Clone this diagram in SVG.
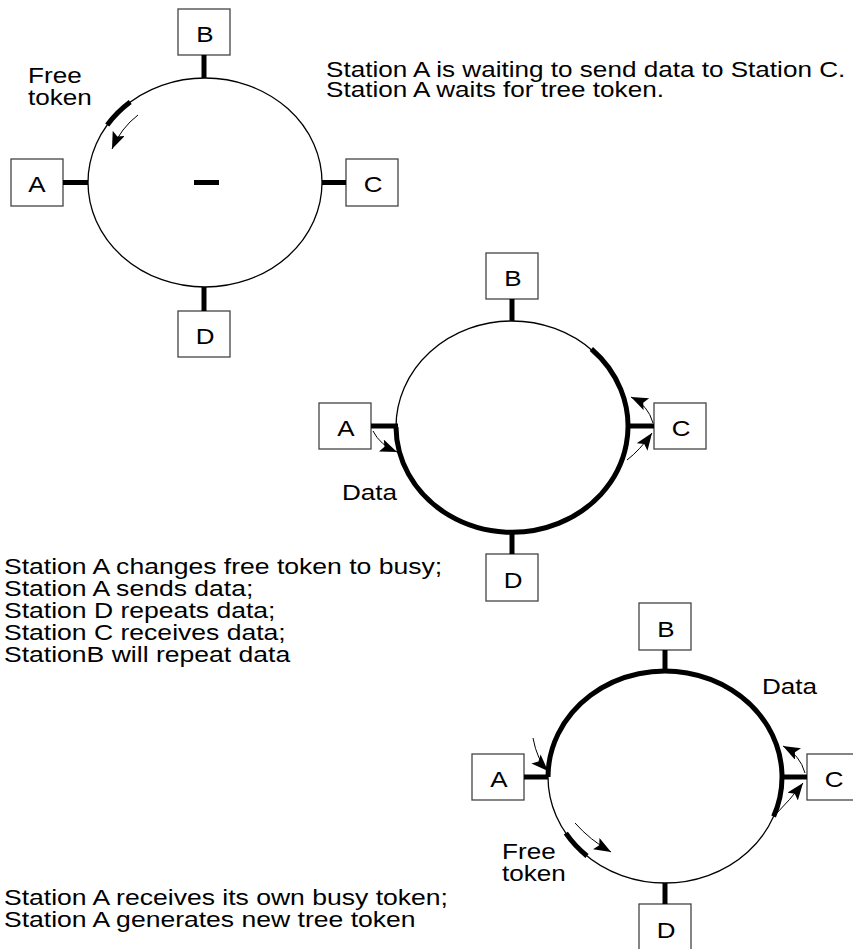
<svg xmlns="http://www.w3.org/2000/svg" width="853" height="949" viewBox="0 0 853 949">
<style>
.t{font-family:"Liberation Sans",Arial,Helvetica,sans-serif;font-size:22.5px;fill:#000}
.lbl{font-family:"Liberation Sans",Arial,Helvetica,sans-serif;font-size:22px;fill:#000;text-anchor:middle}
.box{fill:#fff;stroke:#444;stroke-width:1.3}
.ring{fill:none;stroke:#000;stroke-width:1.3}
.stem{stroke:#000;stroke-width:5;fill:none}
.thick{fill:none;stroke:#000;stroke-width:5}
.arr{fill:none;stroke:#000;stroke-width:1}
</style>
<defs>
<marker id="ah" markerUnits="userSpaceOnUse" markerWidth="20" markerHeight="14" refX="17" refY="6.5" orient="auto">
<path d="M0,0 L17,6.5 L0,13 L3.5,6.5 z" fill="#000"/>
</marker>
</defs>

<!-- Ring 1 -->
<g id="ring1">
<ellipse class="ring" cx="205" cy="182.5" rx="117" ry="104.5"/>
<line class="stem" x1="194" y1="182.5" x2="219" y2="182.5"/>
</g>
<g id="r1-B"><rect class="box" x="178" y="9" width="52" height="46"/><text class="lbl" transform="translate(205,0) scale(1.18,1)" y="42">B</text></g>
<g id="r1-A"><rect class="box" x="11" y="159" width="52" height="47"/><text class="lbl" transform="translate(37,0) scale(1.18,1)" y="192">A</text></g>
<g id="r1-C"><rect class="box" x="346" y="159" width="52" height="47"/><text class="lbl" transform="translate(373,0) scale(1.18,1)" y="192">C</text></g>
<g id="r1-D"><rect class="box" x="178" y="311" width="52" height="46"/><text class="lbl" transform="translate(205,0) scale(1.18,1)" y="344">D</text></g>
<g id="r1-connectors">
<line class="stem" x1="204" y1="55" x2="204" y2="78"/>
<line class="stem" x1="63" y1="182.5" x2="88" y2="182.5"/>
<line class="stem" x1="322" y1="182.5" x2="346" y2="182.5"/>
<line class="stem" x1="204" y1="287" x2="204" y2="311"/>
<path class="thick" d="M130.2,102.1 A117,104.5 0 0 0 107.2,125.1"/>
<path class="arr" d="M138,115 Q121,128 112,149" marker-end="url(#ah)"/>
</g>
<text class="t" transform="translate(28,0) scale(1.16,1)"><tspan x="0" y="83">Free</tspan><tspan x="0" y="105">token</tspan></text>
<text class="t" transform="translate(326,0) scale(1.16,1)"><tspan x="0" y="77">Station A is waiting to send data to Station C.</tspan><tspan x="0" y="97">Station A waits for tree token.</tspan></text>

<!-- Ring 2 -->
<g id="ring2">
<ellipse class="ring" cx="512" cy="427" rx="116" ry="106"/>
</g>
<g id="r2-B"><rect class="box" x="486" y="253" width="52" height="46"/><text class="lbl" transform="translate(513,0) scale(1.18,1)" y="286">B</text></g>
<g id="r2-A"><rect class="box" x="319" y="403" width="52" height="46"/><text class="lbl" transform="translate(346,0) scale(1.18,1)" y="436">A</text></g>
<g id="r2-C"><rect class="box" x="654" y="403" width="52" height="46"/><text class="lbl" transform="translate(681,0) scale(1.18,1)" y="436">C</text></g>
<g id="r2-D"><rect class="box" x="486" y="554" width="52" height="47"/><text class="lbl" transform="translate(513,0) scale(1.18,1)" y="588">D</text></g>
<g id="r2-connectors">
<line class="stem" x1="512" y1="299" x2="512" y2="321"/>
<line class="stem" x1="371" y1="426" x2="398" y2="426"/>
<line class="stem" x1="626" y1="426" x2="654" y2="426"/>
<line class="stem" x1="512" y1="533" x2="512" y2="554"/>
<path class="thick" d="M591.4,349 A116,106 0 1 1 396,427"/>
<path class="arr" d="M373,431 Q380,445 397,452" marker-end="url(#ah)"/>
<path class="arr" d="M653,423 Q648,405 631,397" marker-end="url(#ah)"/>
<path class="arr" d="M627,460 Q640,450 652,433" marker-end="url(#ah)"/>
</g>
<text class="t" transform="translate(342,0) scale(1.16,1)" x="0" y="500">Data</text>
<text class="t" transform="translate(4,0) scale(1.18,1)"><tspan x="0" y="574">Station A changes free token to busy;</tspan><tspan x="0" y="596">Station A sends data;</tspan><tspan x="0" y="618">Station D repeats data;</tspan><tspan x="0" y="640">Station C receives data;</tspan><tspan x="0" y="662">StationB will repeat data</tspan></text>

<!-- Ring 3 -->
<g id="ring3">
<ellipse class="ring" cx="665" cy="777" rx="117" ry="106"/>
</g>
<g id="r3-B"><rect class="box" x="639" y="603" width="52" height="47"/><text class="lbl" transform="translate(666,0) scale(1.18,1)" y="637">B</text></g>
<g id="r3-A"><rect class="box" x="472" y="754" width="52" height="46"/><text class="lbl" transform="translate(499,0) scale(1.18,1)" y="787">A</text></g>
<g id="r3-C"><rect class="box" x="807" y="754" width="52" height="46"/><text class="lbl" transform="translate(834,0) scale(1.18,1)" y="787">C</text></g>
<g id="r3-D"><rect class="box" x="639" y="904" width="52" height="47"/><text class="lbl" transform="translate(666,0) scale(1.18,1)" y="938">D</text></g>
<g id="r3-connectors">
<line class="stem" x1="665" y1="650" x2="665" y2="671"/>
<line class="stem" x1="524" y1="777" x2="548" y2="777"/>
<line class="stem" x1="782" y1="777" x2="807" y2="777"/>
<line class="stem" x1="665" y1="883" x2="665" y2="904"/>
<path class="thick" d="M548,777 A117,106 0 1 1 773.6,816.5"/>
<path class="thick" d="M565.8,833.2 A117,106 0 0 0 587,856"/>
<path class="arr" d="M533,738 Q537,760 548,771" marker-end="url(#ah)"/>
<path class="arr" d="M575,823 Q590,840 611,852" marker-end="url(#ah)"/>
<path class="arr" d="M805,773 Q800,755 783,746" marker-end="url(#ah)"/>
<path class="arr" d="M776,814 Q790,800 803,783" marker-end="url(#ah)"/>
</g>
<text class="t" transform="translate(762,0) scale(1.16,1)" x="0" y="694">Data</text>
<text class="t" transform="translate(502,0) scale(1.16,1)"><tspan x="0" y="859">Free</tspan><tspan x="0" y="881">token</tspan></text>
<text class="t" transform="translate(4,0) scale(1.18,1)"><tspan x="0" y="905">Station A receives its own busy token;</tspan><tspan x="0" y="927">Station A generates new tree token</tspan></text>
</svg>
